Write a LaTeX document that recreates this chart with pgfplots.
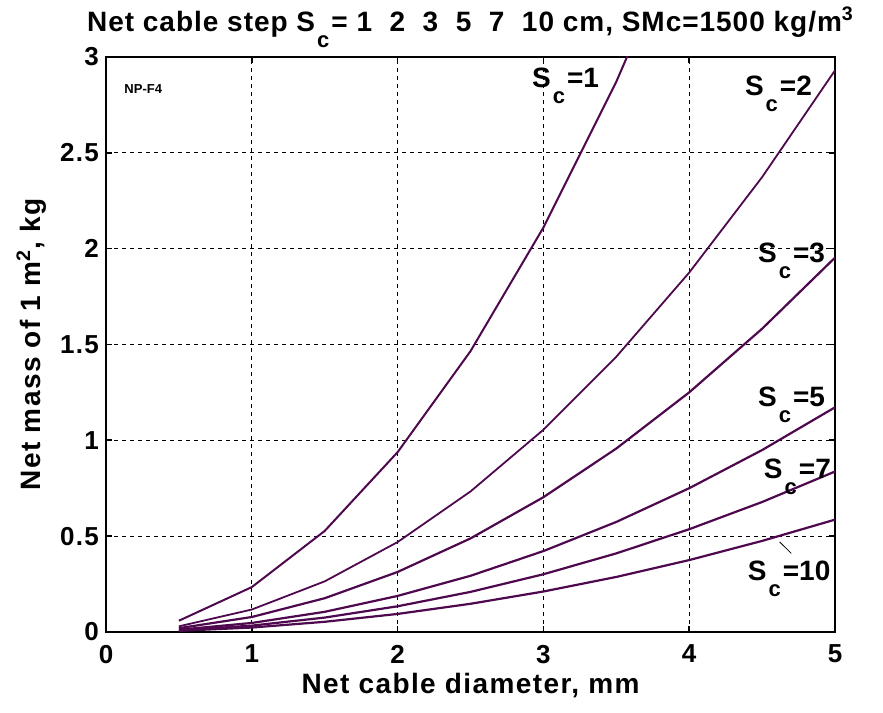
\documentclass[border=0pt]{standalone}
\usepackage{pgfplots}
\pgfplotsset{compat=1.18}
\usepackage{fontspec}
\setmainfont{Liberation Sans}
\newfontfamily\lblfont[LetterSpace=5]{Liberation Sans}
\newfontfamily\ttlfont[LetterSpace=3.5]{Liberation Sans}
\definecolor{curve}{RGB}{78,8,78}
% S with a dropped subscript c, MATLAB style
\newcommand{\Sc}[1]{S\kern1pt\raisebox{-8pt}{\fontsize{11}{11}\selectfont c}\kern1pt=#1}

\begin{document}
\begin{tikzpicture}
\begin{axis}[
  scale only axis,
  width=364.5pt, height=287.5pt,
  xmin=0, xmax=5, ymin=0, ymax=3,
  xtick={0,1,2,3,4,5},
  ytick={0,0.5,1,1.5,2,2.5,3},
  yticklabels={0,0.5,1,1.5,2,2.5,3},
  xticklabels={0,1,2,3,4,5},
  tick pos=both, tick align=inside,
  major tick length=3pt,
  tick style={black, line width=0.8pt},
  axis line style={black, line width=1.2pt},
  grid=major,
  major grid style={black, line width=0.5pt, dash pattern=on 2pt off 2pt},
  ticklabel style={font=\lblfont\bfseries\fontsize{13}{15}\selectfont},
  xticklabel style={yshift=-3pt},
  /pgf/number format/assume math mode=true,
  xlabel={Net cable diameter, mm},
  ylabel={Net mass of 1 m\textsuperscript{2}, kg},
  label style={font=\lblfont\bfseries\fontsize{14}{16}\selectfont},
  xlabel style={yshift=2pt},
  ylabel style={yshift=0pt},
  clip mode=individual,
]
% S_c = 1
\addplot[curve, line width=1pt] coordinates {(0.5,0.0586) (1,0.234) (1.5,0.527) (2,0.938) (2.5,1.465) (3,2.11) (3.5,2.871) (4,3.75)};
% S_c = 2
\addplot[curve, line width=0.9pt] coordinates {(0.5,0.0293) (1,0.117) (1.5,0.264) (2,0.469) (2.5,0.733) (3,1.055) (3.5,1.436) (4,1.875) (4.5,2.373) (5,2.93)};
% S_c = 3
\addplot[curve, line width=1.1pt] coordinates {(0.5,0.0195) (1,0.078) (1.5,0.176) (2,0.313) (2.5,0.488) (3,0.703) (3.5,0.957) (4,1.25) (4.5,1.582) (5,1.953)};
% S_c = 5
\addplot[curve, line width=1.1pt] coordinates {(0.5,0.0117) (1,0.047) (1.5,0.105) (2,0.188) (2.5,0.293) (3,0.422) (3.5,0.574) (4,0.75) (4.5,0.949) (5,1.172)};
% S_c = 7
\addplot[curve, line width=1.1pt] coordinates {(0.5,0.0084) (1,0.033) (1.5,0.075) (2,0.134) (2.5,0.209) (3,0.301) (3.5,0.41) (4,0.536) (4.5,0.678) (5,0.837)};
% S_c = 10
\addplot[curve, line width=1.1pt] coordinates {(0.5,0.0059) (1,0.023) (1.5,0.053) (2,0.094) (2.5,0.147) (3,0.211) (3.5,0.287) (4,0.375) (4.5,0.475) (5,0.586)};

\begin{scope}[font=\bfseries\fontsize{14}{16}\selectfont]
\node[anchor=base west, inner sep=0pt] at (axis cs:2.92,2.84) {\Sc{1}};
\node[anchor=base west, inner sep=0pt] at (axis cs:4.38,2.80) {\Sc{2}};
\node[anchor=base west, inner sep=0pt] at (axis cs:4.47,1.925) {\Sc{3}};
\node[anchor=base west, inner sep=0pt] at (axis cs:4.47,1.174) {\Sc{5}};
\node[anchor=base west, inner sep=0pt] at (axis cs:4.51,0.803) {\Sc{7}};
\node[anchor=base west, inner sep=0pt] at (axis cs:4.40,0.266) {\Sc{10}};
\end{scope}
\draw[black, line width=0.4pt] (axis cs:4.62,0.47) -- (axis cs:4.70,0.41);
\node[anchor=base west, inner sep=0pt, font=\bfseries\fontsize{6.5}{8}\selectfont] at (axis cs:0.124,2.81) {NP-F4};

\node[anchor=base, inner sep=0pt, font=\ttlfont\bfseries\fontsize{14}{16}\selectfont]
  at (rel axis cs:0.5,1.045) {Net cable step \Sc{}\ 1\ \ 2\ \ 3\ \ 5\ \ 7\ \ 10 cm, SMc=1500 kg/m\textsuperscript{3}};

\coordinate (bl) at (rel axis cs:-0.1454,-0.1409);
\coordinate (tr) at (rel axis cs:1.0658,1.099);
\end{axis}
\pgfresetboundingbox
\path (bl) rectangle (tr);
\end{tikzpicture}
\end{document}
